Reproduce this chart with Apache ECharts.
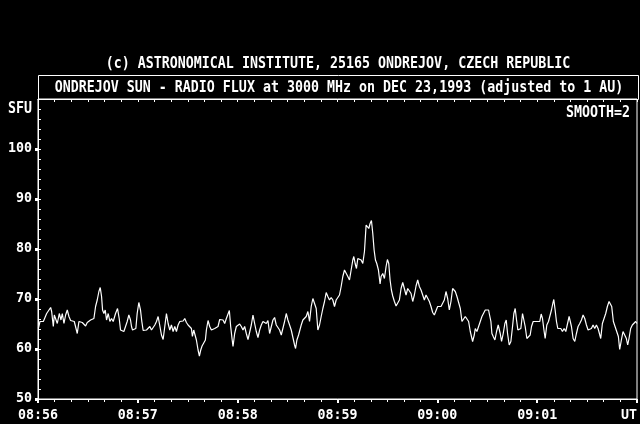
<!DOCTYPE html>
<html>
<head>
<meta charset="utf-8">
<script src="https://cdn.jsdelivr.net/npm/echarts@6/dist/echarts.min.js"></script>
<style>
html,body{margin:0;padding:0;background:#000;}
#c{width:640px;height:424px;}
</style>
</head>
<body>
<div id="c"></div>
<script>
// seconds after 08:56:00 UT
var seconds = [
0.2,1.2,2.2,3.2,4.2,5.2,6.2,7.6,8.2,9.2,9.8,10.8,11.6,12.8,13.8,14.6,15.6,16.6,17.6,18.6,19.6,20.8,21.8,22.6,23.6,24.6,25.6,26.6,27.6,28.6,29.6,30.6,31.6,32.6,33.6,34.6,35.6,36.6,37.4,38.2,38.8,39.6,40.4,41.2,42.2,43.2,44.2,45.2,46.6,47.8,48.8,49.6,50.6,51.6,52.6,53.6,54.6,55.6,56.2,56.8,57.8,58.8,59.6,60.6,61.6,62.4,63.2,64.2,65.2,66.2,67.2,68.2,69.2,70.2,71.2,72.2,73.2,74.2,75.2,76.2,77.2,78.2,79.2,80.2,81.2,82.2,83.2,84.2,85.2,
86.2,87.2,88.2,89.2,90.2,91.2,92.2,92.8,93.6,94.4,95.2,96.2,97.0,97.8,98.6,99.6,100.6,101.2,102.2,103.2,104.2,105.2,106.2,107.2,108.2,109.2,110.2,111.2,112.2,113.2,114.2,115.0,115.8,116.6,117.2,118.2,119.2,120.2,121.2,122.2,123.2,124.2,125.2,126.2,127.2,128.2,129.2,130.2,131.2,132.2,133.2,134.2,135.2,136.2,137.2,138.2,139.2,140.2,141.2,142.2,143.2,144.2,145.2,146.2,147.2,148.2,149.2,150.2,151.2,152.2,153.2,154.2,154.8,155.6,156.6,157.2,158.2,159.2,160.2,161.2,162.2,163.2,164.2,165.2,166.2,167.2,168.2,169.2,170.2,171.2,172.2,173.2,174.2,175.2,
176.2,177.2,178.2,179.2,180.2,181.2,182.2,183.2,184.2,185.2,186.2,187.2,188.2,189.2,189.8,190.6,191.4,192.2,193.2,194.2,195.2,196.2,197.2,198.0,198.8,199.6,200.4,201.2,202.0,202.8,203.6,204.6,205.6,206.2,207.2,208.2,209.2,210.0,210.8,211.6,212.4,213.2,214.2,215.2,216.2,217.2,218.2,219.2,220.2,221.2,222.2,223.2,224.2,225.2,226.2,227.2,228.2,229.2,230.2,231.2,232.2,233.2,234.2,235.2,236.2,237.2,238.2,239.2,240.2,241.2,242.2,243.2,244.2,245.2,246.2,247.2,248.2,249.2,250.0,250.8,251.8,252.8,253.8,254.8,255.8,256.8,257.8,258.8,259.8,261.2,262.2,262.8,263.8,264.8,265.8,266.8,267.8,268.8,269.8,270.8,
271.2,272.2,272.8,273.6,274.6,275.6,276.6,277.2,277.8,278.6,279.6,280.6,281.4,282.2,283.2,284.2,285.2,286.0,286.8,287.6,288.4,289.2,290.2,291.2,292.0,292.8,293.8,294.8,295.8,296.6,297.6,298.6,299.6,300.6,301.6,302.4,303.2,304.2,304.8,305.8,306.8,307.6,308.6,309.4,310.0,310.8,311.6,312.4,313.2,314.2,315.2,316.2,317.2,318.2,319.2,319.8,320.6,321.6,322.6,323.6,324.6,325.6,326.6,327.6,328.6,329.6,330.6,331.6,332.6,333.6,334.6,335.6,336.6,337.6,338.2,339.2,340.2,341.2,342.2,343.2,344.0,344.8,345.8,346.8,347.8,348.8,349.6,350.6,351.6,352.6,353.6,354.4,355.2,356.2,357.2,358.2,359.2,360.0
];
// radio flux, SFU
var sfu = [
64.1,65.5,65.8,65.5,66.3,67.1,67.5,68.3,67.5,64.5,66.8,67.1,65.1,67.1,65.8,67.1,65.1,66.8,67.8,66.5,65.7,66.1,65.5,65.8,63.1,65.5,65.8,65.3,65.5,64.6,65.3,65.1,65.8,66.1,66.1,68.5,69.8,71.5,72.3,70.5,67.8,67.1,67.8,65.8,67.1,65.5,66.1,65.5,67.1,68.1,66.1,63.8,63.5,63.5,63.1,65.5,66.8,65.8,64.5,63.8,64.1,64.1,67.1,69.3,67.8,65.5,63.7,63.9,63.8,64.1,64.5,63.8,64.1,64.8,65.5,66.5,66.1,62.8,61.9,64.5,67.1,65.1,63.8,64.8,63.5,64.5,63.5,64.8,65.5,
65.8,65.6,66.1,65.3,64.8,64.5,64.1,62.5,63.8,63.5,61.8,59.8,58.6,59.8,60.6,60.8,61.8,63.8,65.7,64.5,63.8,63.5,64.1,63.8,64.5,65.9,65.7,65.8,65.1,66.1,66.5,67.7,64.5,62.1,60.5,63.1,64.5,64.8,65.0,64.5,63.8,64.5,63.1,61.9,61.8,64.8,66.8,65.1,63.5,62.3,63.8,64.8,65.5,65.9,65.1,65.7,63.1,63.5,65.8,66.3,64.8,64.5,63.8,62.8,62.8,65.5,67.1,65.8,64.8,63.8,63.8,60.8,60.1,61.8,62.8,62.5,64.8,65.8,65.5,66.5,67.5,65.5,68.5,70.1,70.5,68.1,63.8,64.8,66.5,68.1,69.5,71.3,70.5,69.8,
70.3,69.8,68.5,69.8,70.3,70.8,72.5,74.5,75.8,75.5,74.5,73.8,75.8,77.8,78.5,77.1,76.1,78.1,78.5,77.8,77.1,79.5,84.8,84.5,84.1,85.1,85.7,83.1,79.8,77.8,77.1,75.8,73.0,74.5,75.1,74.1,76.5,77.9,77.1,73.8,71.8,70.6,69.5,68.6,68.3,69.8,72.1,73.3,73.5,70.8,72.1,72.3,71.1,69.5,70.8,72.6,73.8,72.5,71.8,72.0,69.8,70.8,70.8,69.5,68.5,67.3,66.8,66.6,68.5,68.3,68.5,68.5,69.8,71.5,70.1,67.8,69.5,72.1,72.3,71.5,70.5,70.1,68.1,65.5,65.5,66.5,66.8,65.5,63.5,61.5,62.8,64.1,63.5,63.8,65.5,66.5,66.8,67.8,68.1,67.8,
67.1,65.5,63.1,62.5,61.8,63.5,64.8,65.1,63.1,61.5,63.1,65.1,65.8,63.1,60.8,61.5,64.5,67.1,68.1,65.8,63.8,63.7,64.1,67.1,67.5,64.5,62.1,62.1,62.8,64.5,65.5,65.1,65.5,65.1,65.5,67.0,66.1,63.5,62.1,64.8,65.5,65.8,67.8,69.1,69.9,67.8,65.5,64.1,64.5,64.1,63.5,64.1,63.5,63.8,66.5,66.8,64.5,62.1,61.5,63.1,64.5,65.1,65.8,66.8,66.1,64.8,63.8,64.1,64.1,64.8,64.1,64.8,64.1,63.8,62.1,65.1,66.1,67.1,68.5,69.5,69.7,68.5,65.5,64.5,64.1,62.5,59.9,61.8,63.5,63.8,62.1,60.8,62.1,64.1,64.8,65.1,65.5,65.1
];
var xTickLabels = ['08:56','08:57','08:58','08:59','09:00','09:01','UT'];
var yTickValues = [50,60,70,80,90,100];
var topTitle = '(c) ASTRONOMICAL INSTITUTE, 25165 ONDREJOV, CZECH REPUBLIC';
var boxTitle = 'ONDREJOV SUN - RADIO FLUX at 3000 MHz on DEC 23,1993 (adjusted to 1 AU)';
var yName = 'SFU';
var note = 'SMOOTH=2';

var FONT = 'DejaVu Sans Mono';
var FS = 13.3;
var W = '#ffffff';
var data = seconds.map(function(s,i){return [s, sfu[i]];});
var tfont = 'bold 15px "' + FONT + '"';

var chart = echarts.init(document.getElementById('c'), null, {renderer:'canvas'});
chart.setOption({
  backgroundColor:'#000000',
  animation:false,
  grid:{left:38,right:2,top:99,bottom:25,show:true,borderColor:W,borderWidth:1,backgroundColor:'transparent'},
  xAxis:[{
    type:'value',position:'bottom',min:0,max:360,interval:60,
    axisLine:{show:true,lineStyle:{color:W,width:1}},
    axisTick:{show:true,inside:false,length:4,lineStyle:{color:W,width:2}},
    minorTick:{show:true,splitNumber:6,length:3,lineStyle:{color:W,width:1}},
    splitLine:{show:false},
    axisLabel:{color:W,fontFamily:FONT,fontWeight:'bold',fontSize:FS,margin:10,alignMaxLabel:'right',
      formatter:function(v){var i=Math.round(v/60);return xTickLabels[i]!==undefined?xTickLabels[i]:'';}}
  },{
    type:'value',position:'top',min:0,max:360,interval:10,
    axisLine:{show:true,lineStyle:{color:W,width:1}},
    axisTick:{show:true,inside:true,length:3,lineStyle:{color:W,width:1}},
    axisLabel:{show:false},splitLine:{show:false}
  }],
  yAxis:[{
    type:'value',position:'left',min:50,max:110,interval:10,
    axisLine:{show:true,lineStyle:{color:W,width:1}},
    axisTick:{show:true,inside:false,length:3,lineStyle:{color:W,width:3}},
    splitLine:{show:false},
    axisLabel:{color:W,fontFamily:FONT,fontWeight:'bold',fontSize:FS,margin:6,showMaxLabel:false,
      formatter:function(v){return yTickValues.indexOf(v)>=0?String(v):'';}}
  },{
    type:'value',position:'left',min:50,max:110,interval:2,
    axisLine:{show:false},
    axisTick:{show:true,inside:true,length:3,lineStyle:{color:W,width:1}},
    axisLabel:{show:false},splitLine:{show:false}
  }],
  series:[{
    type:'line',xAxisIndex:0,yAxisIndex:0,data:data,
    showSymbol:false,symbol:'none',
    lineStyle:{color:W,width:1.2},
    silent:true
  }],
  graphic:[
    {type:'text',x:338,y:64,scaleX:0.887,style:{text:topTitle,fill:W,font:tfont,align:'center',verticalAlign:'middle'}},
    {type:'rect',shape:{x:38.5,y:75.5,width:600,height:24},style:{fill:null,stroke:W,lineWidth:1}},
    {type:'text',x:339,y:88,scaleX:0.887,style:{text:boxTitle,fill:W,font:tfont,align:'center',verticalAlign:'middle'}},
    {type:'text',x:32,y:109,scaleX:0.887,style:{text:yName,fill:W,font:tfont,align:'right',verticalAlign:'middle'}},
    {type:'text',x:630,y:113.5,scaleX:0.887,style:{text:note,fill:W,font:tfont,align:'right',verticalAlign:'middle'}}
  ]
});
</script>
</body>
</html>
